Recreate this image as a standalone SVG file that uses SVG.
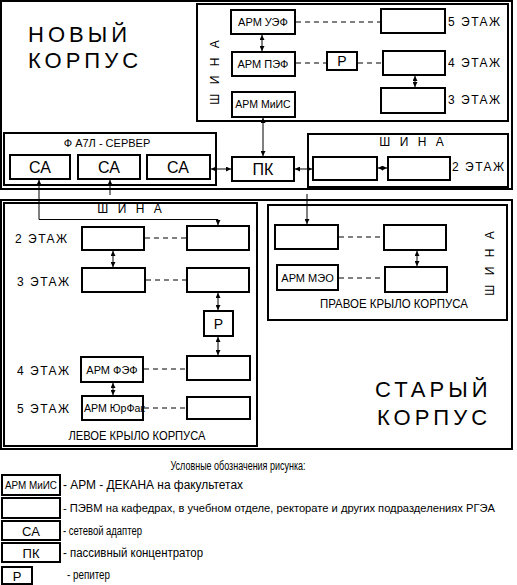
<svg xmlns="http://www.w3.org/2000/svg" width="517" height="585" viewBox="0 0 517 585">
<style>
text{font-family:"Liberation Sans",Arial,sans-serif;fill:#000}
.b{fill:#fff;stroke:#000;stroke-width:2}
.f{fill:none;stroke:#000;stroke-width:2}
.c{fill:none;stroke:#000;stroke-width:1}
.d{fill:none;stroke:#000;stroke-width:1;stroke-dasharray:5 4}
.big{font-size:22px;letter-spacing:4px}
.fl{font-size:12px;letter-spacing:1.5px}
.bus{font-size:12px;letter-spacing:3px}
.arm{font-size:11px}
.ca{font-size:16px}
.lg{font-size:12px}
</style>
<defs>
<marker id="a" viewBox="0 0 5 5" refX="5" refY="2.5" markerWidth="5" markerHeight="5" markerUnits="userSpaceOnUse" orient="auto-start-reverse">
<path d="M0,0 L5,2.5 L0,5 z" fill="#000"/>
</marker>
</defs>
<rect width="517" height="585" fill="#fff"/>

<g id="new-building">
<rect class="f" x="1" y="1" width="511" height="188"/>
<text class="big" x="28" y="42">НОВЫЙ</text>
<text class="big" x="28" y="68">КОРПУС</text>
</g>

<g id="new-bus">
<rect class="f" x="197" y="4" width="311" height="117"/>
<text class="bus" transform="translate(219,71) rotate(-90)" text-anchor="middle">Ш И Н А</text>
<text class="fl" x="448" y="26">5 ЭТАЖ</text>
<text class="fl" x="448" y="67">4 ЭТАЖ</text>
<text class="fl" x="448" y="104">3 ЭТАЖ</text>
</g>
<g id="arm-uef"><rect class="b" x="231" y="10" width="64" height="24"/><text class="arm" x="263" y="26" text-anchor="middle">АРМ УЭФ</text></g>
<g id="arm-pef"><rect class="b" x="232" y="52" width="63" height="24"/><text class="arm" x="263" y="68" text-anchor="middle">АРМ ПЭФ</text></g>
<g id="arm-miis"><rect class="b" x="232" y="92" width="63" height="25"/><text x="263" y="108" text-anchor="middle" font-size="10.5">АРМ МиИС</text></g>
<g id="rep-top"><rect class="b" x="327" y="52" width="30" height="18"/><text x="342" y="66" text-anchor="middle" font-size="14">Р</text></g>
<g id="pc5"><rect class="b" x="381" y="9" width="64" height="24"/></g>
<g id="pc4"><rect class="b" x="383" y="51" width="62" height="24"/></g>
<g id="pc3"><rect class="b" x="381" y="88" width="64" height="25"/></g>

<g id="server">
<rect class="f" x="4" y="133" width="212" height="52"/>
<text x="107" y="147" text-anchor="middle" font-size="11">Ф А7Л - СЕРВЕР</text>
</g>
<g id="ca1"><rect class="b" x="10" y="155" width="60" height="24"/><text class="ca" x="40" y="173" text-anchor="middle">СА</text></g>
<g id="ca2"><rect class="b" x="78" y="155" width="62" height="24"/><text class="ca" x="109" y="173" text-anchor="middle">СА</text></g>
<g id="ca3"><rect class="b" x="147" y="155" width="63" height="24"/><text class="ca" x="178" y="173" text-anchor="middle">СА</text></g>
<g id="pk"><rect class="b" x="232" y="157" width="62" height="24"/><text class="ca" x="263" y="175" text-anchor="middle">ПК</text></g>

<g id="bus-2floor">
<rect class="f" x="308" y="134" width="200" height="53"/>
<text class="bus" x="413" y="146" text-anchor="middle">Ш И Н А</text>
<text class="fl" x="452" y="171">2 ЭТАЖ</text>
</g>
<g id="pc2a"><rect class="b" x="313" y="157" width="64" height="23"/></g>
<g id="pc2b"><rect class="b" x="388" y="157" width="62" height="23"/></g>

<g id="old-building">
<rect class="f" x="1" y="200" width="511" height="249"/>
<text class="big" x="375" y="397">СТАРЫЙ</text>
<text class="big" x="377" y="425">КОРПУС</text>
</g>

<g id="left-wing">
<rect class="f" x="4" y="203" width="253" height="243"/>
<text class="bus" x="131" y="213" text-anchor="middle">Ш И Н А</text>
<text class="fl" x="15" y="243">2 ЭТАЖ</text>
<text class="fl" x="17" y="286">3 ЭТАЖ</text>
<text class="fl" x="17" y="375">4 ЭТАЖ</text>
<text class="fl" x="17" y="413">5 ЭТАЖ</text>
<text x="137" y="440" text-anchor="middle" font-size="12" textLength="137" lengthAdjust="spacingAndGlyphs">ЛЕВОЕ КРЫЛО КОРПУСА</text>
</g>
<g id="lw-2l"><rect class="b" x="82" y="227" width="62" height="23"/></g>
<g id="lw-2r"><rect class="b" x="187" y="226" width="62" height="24"/></g>
<g id="lw-3l"><rect class="b" x="82" y="268" width="63" height="24"/></g>
<g id="lw-3r"><rect class="b" x="187" y="268" width="62" height="24"/></g>
<g id="lw-rep"><rect class="b" x="204" y="311" width="29" height="25"/><text x="218.5" y="329" text-anchor="middle" font-size="14">Р</text></g>
<g id="lw-4l"><rect class="b" x="81" y="357" width="62" height="25"/><text class="arm" x="112" y="374" text-anchor="middle">АРМ ФЭФ</text></g>
<g id="lw-4r"><rect class="b" x="187" y="356" width="63" height="24"/></g>
<g id="lw-5l"><rect fill="#fff" x="82" y="396" width="61" height="24"/><text x="84" y="412" font-size="10.5" textLength="61" lengthAdjust="spacingAndGlyphs">АРМ ЮрФак</text><rect class="f" x="82" y="396" width="61" height="24"/></g>
<g id="lw-5r"><rect class="b" x="187" y="397" width="63" height="22"/></g>

<g id="right-wing">
<rect class="f" x="268" y="205" width="239" height="115"/>
<text class="bus" transform="translate(494,262) rotate(-90)" text-anchor="middle">Ш И Н А</text>
<text x="394" y="308" text-anchor="middle" font-size="12" textLength="148" lengthAdjust="spacingAndGlyphs">ПРАВОЕ КРЫЛО КОРПУСА</text>
</g>
<g id="rw-1"><rect class="b" x="275" y="225" width="63" height="24"/></g>
<g id="rw-2"><rect class="b" x="384" y="225" width="62" height="25"/></g>
<g id="rw-meo"><rect class="b" x="277" y="265" width="61" height="25"/><text class="arm" x="307.5" y="282" text-anchor="middle">АРМ МЭО</text></g>
<g id="rw-4"><rect class="b" x="385" y="267" width="62" height="25"/></g>

<g id="connectors">
<path class="c" d="M262,35 V51" marker-start="url(#a)" marker-end="url(#a)"/>
<path class="c" d="M415,76 V87" marker-start="url(#a)" marker-end="url(#a)"/>
<path class="c" d="M263,118 V156" marker-start="url(#a)" marker-end="url(#a)"/>
<path class="c" d="M211,169 H231" marker-start="url(#a)" marker-end="url(#a)"/>
<path class="c" d="M295,169 H312" marker-start="url(#a)" marker-end="url(#a)"/>
<path class="c" d="M378,168 H387" marker-start="url(#a)" marker-end="url(#a)"/>
<path class="c" d="M39,180 V219.5 H218 V225" marker-start="url(#a)" marker-end="url(#a)"/>
<path class="c" d="M110,195 V180" marker-end="url(#a)"/>
<path class="c" d="M307,194 V224" marker-end="url(#a)"/>
<path class="c" d="M113,251 V267" marker-start="url(#a)" marker-end="url(#a)"/>
<path class="c" d="M218,293 V310" marker-start="url(#a)" marker-end="url(#a)"/>
<path class="c" d="M218,337 V355" marker-start="url(#a)" marker-end="url(#a)"/>
<path class="c" d="M113,383 V395" marker-start="url(#a)" marker-end="url(#a)"/>
<path class="c" d="M417,251 V266" marker-start="url(#a)" marker-end="url(#a)"/>
<path class="d" d="M296,22 H380"/>
<path class="d" d="M296,63 H326"/>
<path class="d" d="M358,63 H382"/>
<path class="d" d="M145,238 H186"/>
<path class="d" d="M146,280 H186"/>
<path class="d" d="M144,369 H186"/>
<path class="d" d="M144,408 H186"/>
<path class="d" d="M339,237 H383"/>
<path class="d" d="M339,278 H384"/>
</g>

<g id="legend">
<text x="238" y="470" text-anchor="middle" font-size="12" textLength="135" lengthAdjust="spacingAndGlyphs">Условные обозначения рисунка:</text>
<g id="lg-arm"><rect class="b" x="2" y="475" width="58" height="20"/><text x="31" y="489" text-anchor="middle" font-size="10" textLength="52" lengthAdjust="spacingAndGlyphs">АРМ МиИС</text></g>
<text class="lg" x="63" y="489" textLength="180" lengthAdjust="spacingAndGlyphs">- АРМ - ДЕКАНА на факультетах</text>
<g id="lg-pc"><rect class="b" x="2" y="498" width="58" height="20"/></g>
<text x="63" y="512" font-size="11" textLength="432" lengthAdjust="spacingAndGlyphs">- ПЭВМ на кафедрах, в учебном отделе, ректорате и других подразделениях РГЭА</text>
<g id="lg-ca"><rect class="b" x="2" y="521" width="58" height="19"/><text x="31" y="536" text-anchor="middle" font-size="13">СА</text></g>
<text class="lg" x="63" y="535" textLength="79" lengthAdjust="spacingAndGlyphs">- сетевой адаптер</text>
<g id="lg-pk"><rect class="b" x="2" y="543" width="58" height="19"/><text x="31" y="558" text-anchor="middle" font-size="13">ПК</text></g>
<text class="lg" x="63" y="557" textLength="140" lengthAdjust="spacingAndGlyphs">- пассивный концентратор</text>
<g id="lg-rep"><rect class="b" x="2" y="567" width="30" height="17"/><text x="17" y="581" text-anchor="middle" font-size="13">Р</text></g>
<text class="lg" x="67" y="579" textLength="43" lengthAdjust="spacingAndGlyphs">- репитер</text>
</g>
</svg>
